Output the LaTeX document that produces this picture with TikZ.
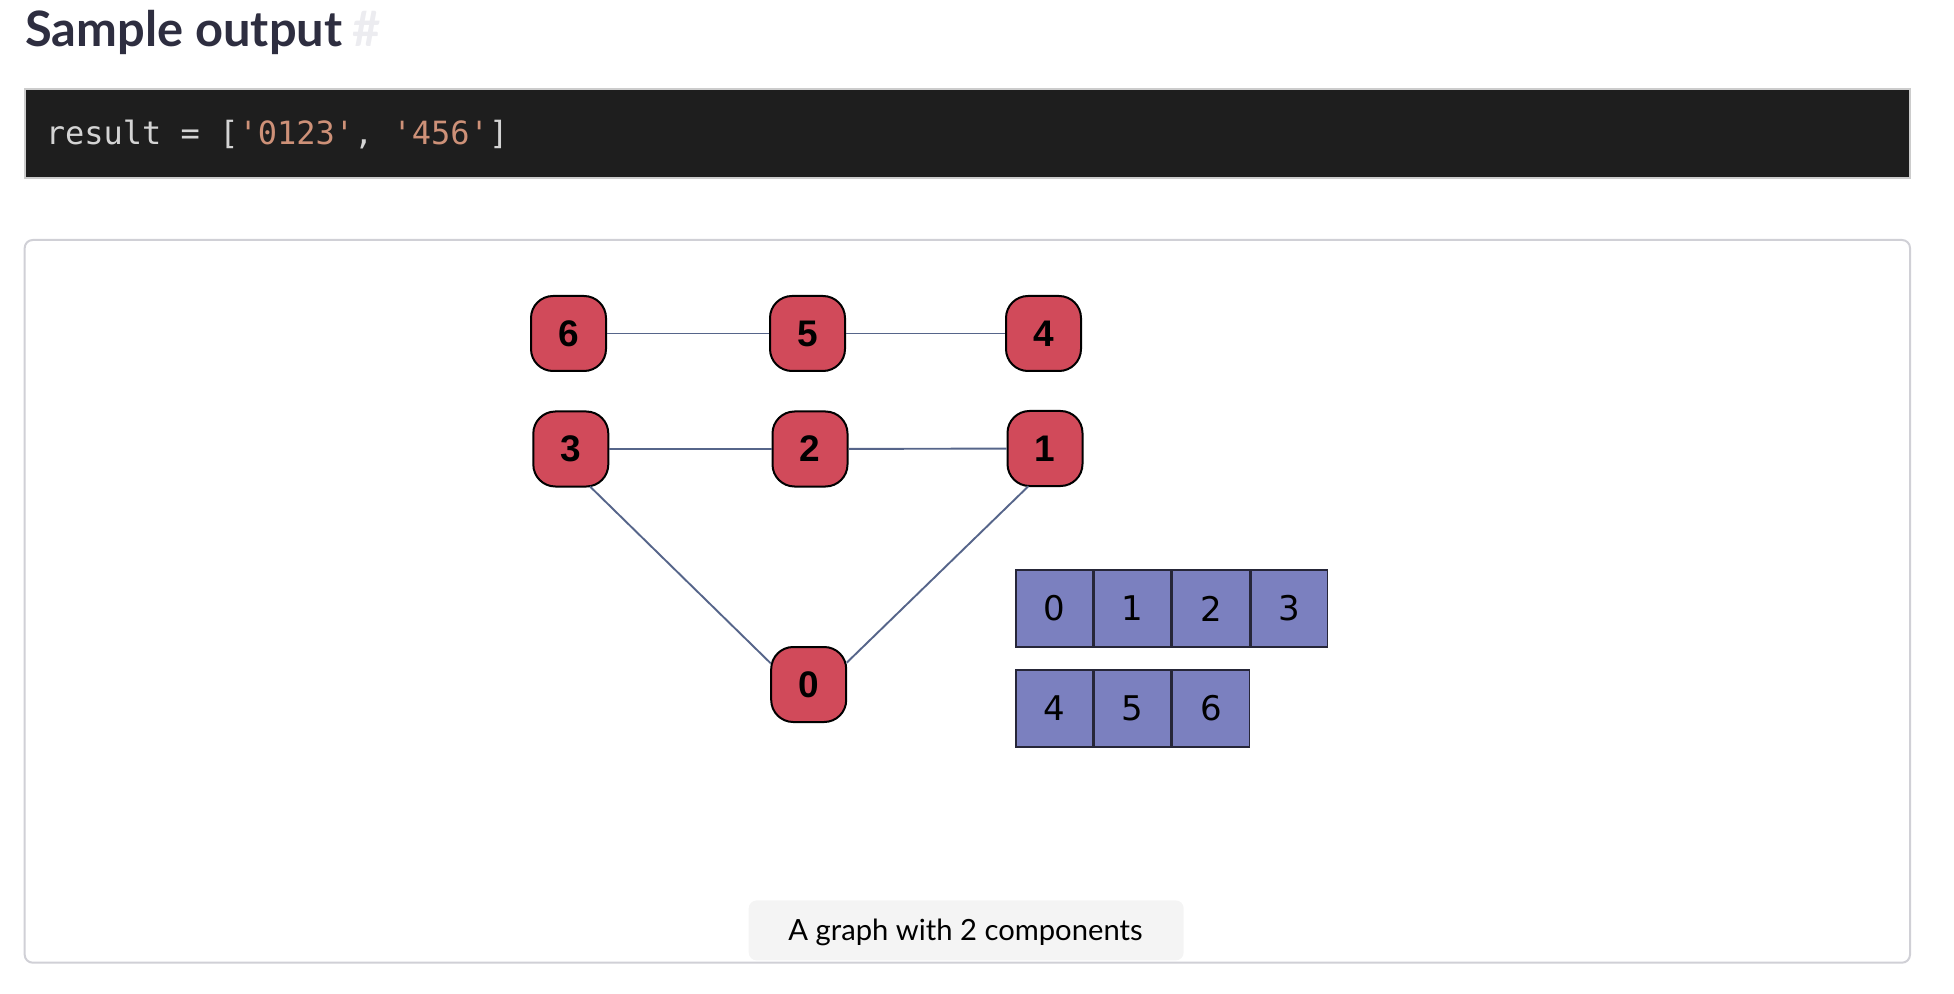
\documentclass[tikz,border=0pt]{standalone}
\usepackage{fontspec}
\usetikzlibrary{calc}
\newfontfamily\headfont{Lato}
\newfontfamily\capfont{Lato}
\newfontfamily\codefont{DejaVu Sans Mono}[Ligatures=TeXOff]
\newfontfamily\cellfont{DejaVu Sans}
\newfontfamily\vertfont{Liberation Sans}

\definecolor{headcol}{RGB}{46,46,64}
\definecolor{hashcol}{RGB}{236,236,240}
\definecolor{codebg}{RGB}{30,30,30}
\definecolor{codeline}{RGB}{204,204,204}
\definecolor{codefg}{RGB}{212,212,212}
\definecolor{codestr}{RGB}{206,145,120}
\definecolor{panelline}{RGB}{208,208,214}
\definecolor{capbg}{RGB}{244,244,244}
\definecolor{vertfill}{RGB}{209,74,90}
\definecolor{edgecol}{RGB}{86,101,138}
\definecolor{cellfill}{RGB}{123,128,191}
\definecolor{cellline}{RGB}{38,38,56}

\begin{document}
\begin{tikzpicture}[x=0.5pt,y=-0.5pt,
  vert/.style={draw=black, line width=1pt, fill=vertfill, rounded corners=11pt,
    minimum width=37.5pt, minimum height=37.5pt, inner sep=0pt,
    font=\vertfont\bfseries\fontsize{18.5}{20}\selectfont},
  cell/.style={draw=cellline, line width=0.75pt, fill=cellfill,
    minimum width=38.35pt, minimum height=38.35pt, inner sep=0pt,
    font=\cellfont\fontsize{17}{19}\selectfont},
  edge/.style={draw=edgecol, line width=0.95pt}]
\useasboundingbox (0,0) rectangle (1954,994);

% heading
\node[anchor=base west, inner sep=0pt, text=headcol,
  font=\headfont\bfseries\fontsize{24.4}{28}\selectfont] (title) at (25,46.7) {Sample output};
\node[anchor=base west, inner sep=0pt, text=hashcol,
  font=\headfont\bfseries\fontsize{24.4}{28}\selectfont] (hash) at (352,46.7) {\#};

% code block
\node[anchor=north west, draw=codeline, line width=1pt, fill=codebg,
  minimum width=942.65pt, minimum height=44.25pt, inner sep=0pt] (codebox) at (23.7,88.5) {};
\node[anchor=base west, inner sep=0pt, font=\codefont\fontsize{16}{18}\selectfont,
  text=codefg] (code) at (45.5,144.3)
  {result = [\textcolor{codestr}{'0123'}, \textcolor{codestr}{'456'}]};

% output panel
\node[anchor=north west, draw=panelline, line width=1pt, rounded corners=4pt,
  minimum width=942.65pt, minimum height=361.35pt, inner sep=0pt] (panel) at (23.7,239) {};
\node[anchor=north west, fill=capbg, rounded corners=4pt,
  minimum width=217.5pt, minimum height=30pt, inner sep=0pt] (capbox) at (748.3,900) {};
\node[anchor=base, inner sep=0pt, font=\capfont\fontsize{14.6}{17}\selectfont]
  (caption) at (965.5,940.7) {A graph with 2 components};

% graph vertices
\node[vert] (n6) at (568.5,333.5) {6};
\node[vert] (n5) at (807.5,333.5) {5};
\node[vert] (n4) at (1043.5,333.5) {4};
\node[vert] (n3) at (570.8,449) {3};
\node[vert] (n2) at (810,449) {2};
\node[vert] (n1) at (1045,448.5) {1};
\node[vert] (n0) at (808.7,684.5) {0};

% graph edges
\draw[edge] (n6) -- (n5);
\draw[edge] (n5) -- (n4);
\draw[edge] (n3) -- (n2);
\draw[edge] (n2) -- (n1);
\draw[edge] ($(n3.center)+(19.2,37.5)$) -- ($(n0.center)+(-38,-21.2)$);
\draw[edge] ($(n1.center)+(-16.7,37.8)$) -- ($(n0.center)+(38,-21.8)$);

% component cells
\node[cell] (c0) at (1054.4,608.4) {0};
\node[cell] (c1) at (1132.7,608.4) {1};
\node[cell] (c2) at (1211.0,608.4) {2};
\node[cell] (c3) at (1289.3,608.4) {3};
\node[cell] (c4) at (1054.4,708.4) {4};
\node[cell] (c5) at (1132.7,708.4) {5};
\node[cell] (c6) at (1211.0,708.4) {6};
\end{tikzpicture}
\end{document}
